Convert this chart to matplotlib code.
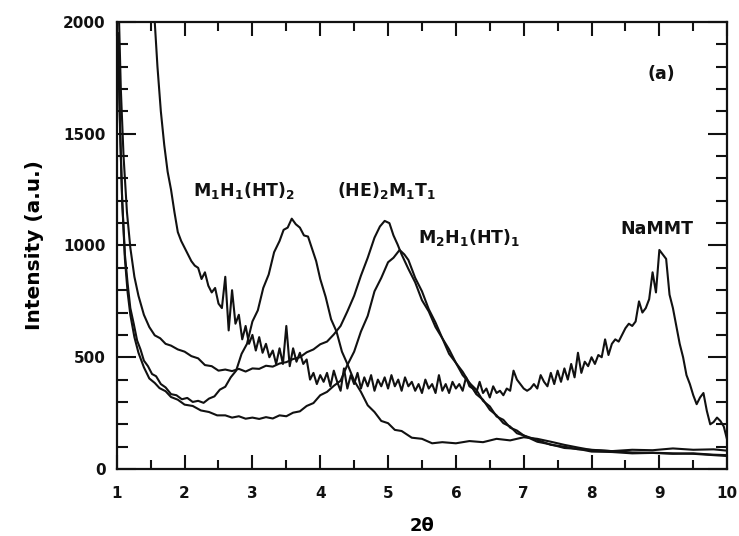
import numpy as np
import matplotlib
matplotlib.use("Agg")
import matplotlib.pyplot as plt
from matplotlib.ticker import MultipleLocator

plt.rcParams['font.family'] = ['DejaVu Sans']
plt.rcParams['font.weight'] = 'bold'
plt.rcParams['mathtext.fontset'] = 'custom'
plt.rcParams['mathtext.rm'] = 'DejaVu Sans:bold'
plt.rcParams['mathtext.bf'] = 'DejaVu Sans:bold'
plt.rcParams['mathtext.it'] = 'DejaVu Sans:bold'
plt.rcParams['mathtext.default'] = 'bf'

# ---- data ----
m1h1_x = [1.02, 1.05, 1.08, 1.12, 1.16, 1.2, 1.25, 1.3, 1.35, 1.4, 1.46, 1.52, 1.58, 1.65, 1.72,
          1.8, 1.88, 1.96, 2.04, 2.12, 2.2, 2.28, 2.36, 2.44, 2.52, 2.6, 2.68, 2.76, 2.84, 2.92,
          3.0, 3.08, 3.16, 3.24, 3.32, 3.4, 3.46, 3.52, 3.58, 3.64, 3.7, 3.76, 3.82, 3.88, 3.94,
          4.0, 4.08, 4.16, 4.24, 4.32, 4.4, 4.5, 4.6, 4.7, 4.8, 4.9, 5.0, 5.1, 5.2, 5.35, 5.5,
          5.65, 5.8, 6.0, 6.2, 6.4, 6.6, 6.8, 7.0, 7.2, 7.4, 7.6, 7.8, 8.0, 8.3, 8.6, 8.9, 9.2,
          9.5, 9.8, 10.0]
m1h1_y = [1900, 1500, 1200, 960, 830, 720, 650, 575, 535, 485, 460, 425, 415, 380, 365,
          335, 330, 312, 318, 300, 305, 296, 315, 325, 355, 368, 410, 440, 515, 560,
          660, 710, 810, 870, 970, 1020, 1070, 1080, 1120, 1095, 1080, 1045, 1040, 985, 930,
          850, 770, 670, 615, 525, 470, 395, 345, 285, 255, 215, 205, 175, 170, 140, 135,
          115, 120, 115, 125, 120, 135, 128, 142, 135, 122, 108, 96, 85, 80, 74, 73, 70,
          68, 62, 58]

he_x = [1.03, 1.06, 1.1, 1.15, 1.2, 1.26, 1.32, 1.4, 1.48, 1.56, 1.64, 1.72, 1.8, 1.9, 2.0,
        2.1, 2.2, 2.3, 2.4, 2.5, 2.6, 2.7, 2.8, 2.9, 3.0, 3.1, 3.2, 3.3, 3.4, 3.5, 3.6, 3.7,
        3.8, 3.9, 4.0, 4.1, 4.2, 4.3, 4.4, 4.5, 4.6, 4.7, 4.8, 4.88, 4.95, 5.02, 5.08, 5.14,
        5.2, 5.3, 5.4, 5.5, 5.6, 5.7, 5.8, 5.9, 6.0, 6.1, 6.2, 6.3, 6.4, 6.5, 6.6, 6.7, 6.8,
        6.9, 7.0, 7.2, 7.4, 7.6, 7.8, 8.0, 8.3, 8.6, 8.9, 9.2, 9.5, 9.8, 10.0]
he_y = [2050, 1700, 1400, 1150, 990, 860, 775, 690, 635, 598, 585, 560, 552, 535, 525,
        505, 495, 465, 460, 440, 445, 438, 448, 436, 450, 448, 462, 458, 472, 478, 492, 500,
        522, 535, 558, 570, 602, 640, 705, 775, 865, 945, 1035, 1085, 1110, 1100, 1045, 1005,
        960, 895, 835, 755, 705, 635, 585, 515, 475, 420, 385, 335, 310, 265, 240, 205, 190,
        160, 150, 122, 110, 94, 90, 78, 76, 70, 72, 68, 70, 64, 62]

m2h1_x = [1.02, 1.05, 1.08, 1.12, 1.16, 1.2, 1.26, 1.32, 1.4, 1.48, 1.56, 1.63, 1.72, 1.8, 1.9,
          2.0, 2.12, 2.24, 2.36, 2.48, 2.6, 2.7, 2.8, 2.9, 3.0, 3.1, 3.2, 3.3, 3.4, 3.5, 3.6,
          3.7, 3.8, 3.9, 4.0, 4.1, 4.2, 4.3, 4.4, 4.5, 4.6, 4.7, 4.8, 4.9, 5.0, 5.08, 5.17,
          5.24, 5.3, 5.4, 5.5, 5.6, 5.7, 5.8, 5.9, 6.0, 6.1, 6.2, 6.3, 6.4, 6.5, 6.6, 6.7, 6.8,
          6.9, 7.0, 7.2, 7.4, 7.6, 7.8, 8.0, 8.3, 8.6, 8.9, 9.2, 9.5, 9.8, 10.0]
m2h1_y = [1950, 1520, 1200, 940, 790, 690, 590, 520, 455, 405, 385, 362, 348, 322, 310,
          288, 282, 262, 255, 240, 240, 230, 236, 225, 230, 224, 232, 226, 240, 236, 252,
          258, 282, 295, 330, 345, 372, 395, 465, 525, 615, 685, 795, 855, 925, 945, 980,
          960, 935, 855, 795, 715, 655, 585, 535, 475, 435, 385, 355, 305, 280, 235, 220, 185,
          172, 150, 130, 108, 100, 88, 86, 80, 86, 84, 92, 86, 88, 82]

nammt_x0 = 1.55
nammt_step = 0.05
nammt_y = [2050, 1800, 1600, 1450, 1330, 1250, 1150, 1060, 1020, 990,
           960, 930, 910, 900, 850, 880, 820, 790, 810, 740,
           720, 860, 620, 800, 650, 690, 580, 640, 560, 600,
           530, 590, 520, 560, 500, 530, 470, 540, 470, 640,
           460, 540, 480, 520, 470, 490, 400, 430, 380, 420,
           390, 430, 370, 440, 390, 350, 450, 360, 420, 380,
           430, 360, 410, 370, 420, 350, 400, 370, 410, 360,
           420, 370, 400, 350, 410, 370, 390, 350, 380, 340,
           400, 360, 380, 340, 420, 350, 380, 340, 390, 360,
           380, 350, 410, 370, 360, 340, 390, 340, 360, 320,
           370, 340, 350, 330, 360, 350, 440, 400, 380, 360,
           350, 360, 380, 360, 420, 390, 370, 430, 380, 440,
           390, 450, 400, 470, 410, 520, 430, 480, 460, 500,
           470, 510, 500, 580, 510, 560, 580, 570, 600, 630,
           650, 640, 660, 750, 700, 720, 760, 880, 790, 980,
           960, 940, 780, 720, 640, 560, 500, 420, 380, 330,
           290, 320, 340, 260, 200, 210, 230, 215, 190, 130]
nammt_x = nammt_x0 + nammt_step * np.arange(len(nammt_y))

labels = ['M$_1$H$_1$(HT)$_2$', '(HE)$_2$M$_1$T$_1$', 'M$_2$H$_1$(HT)$_1$', 'NaMMT', '(a)']
label_pos = [(2.12, 1223), (4.24, 1223), (5.44, 1009), (8.42, 1053), (8.82, 1745)]

# ---- plot ----
fig = plt.figure(figsize=(7.39, 5.36), dpi=100)
ax = fig.add_axes([0.158, 0.125, 0.826, 0.834])
lc = '#111111'
lw = 1.5
for xs, ys in [(m1h1_x, m1h1_y), (he_x, he_y), (m2h1_x, m2h1_y), (nammt_x, nammt_y)]:
    ax.plot(xs, ys, color=lc, lw=lw)

for t, (x, y) in zip(labels, label_pos):
    ax.text(x, y, t, fontsize=12.5, fontweight='bold', ha='left', va='baseline', color=lc)

ax.set_xlim(1, 10)
ax.set_ylim(0, 2000)
ax.xaxis.set_major_locator(MultipleLocator(1))
ax.xaxis.set_minor_locator(MultipleLocator(0.5))
ax.yaxis.set_major_locator(MultipleLocator(500))
ax.yaxis.set_minor_locator(MultipleLocator(100))
ax.tick_params(which='both', direction='in', top=True, right=True, width=1.5, colors=lc,
               labelsize=11)
ax.tick_params(axis='x', which='major', length=10, pad=12)
ax.tick_params(axis='x', which='minor', length=6.5)
ax.tick_params(axis='y', which='major', length=13.5, pad=8)
ax.tick_params(axis='y', which='minor', length=8)
for lab in ax.get_xticklabels() + ax.get_yticklabels():
    lab.set_fontweight('bold')
for s in ax.spines.values():
    s.set_linewidth(1.6)
    s.set_color(lc)

ax.set_ylabel('Intensity (a.u.)', fontsize=14.5, fontweight='bold', labelpad=14)
ax.set_xlabel('2θ', fontsize=13, fontweight='bold', labelpad=12)

fig.savefig('out.png', dpi=100)
